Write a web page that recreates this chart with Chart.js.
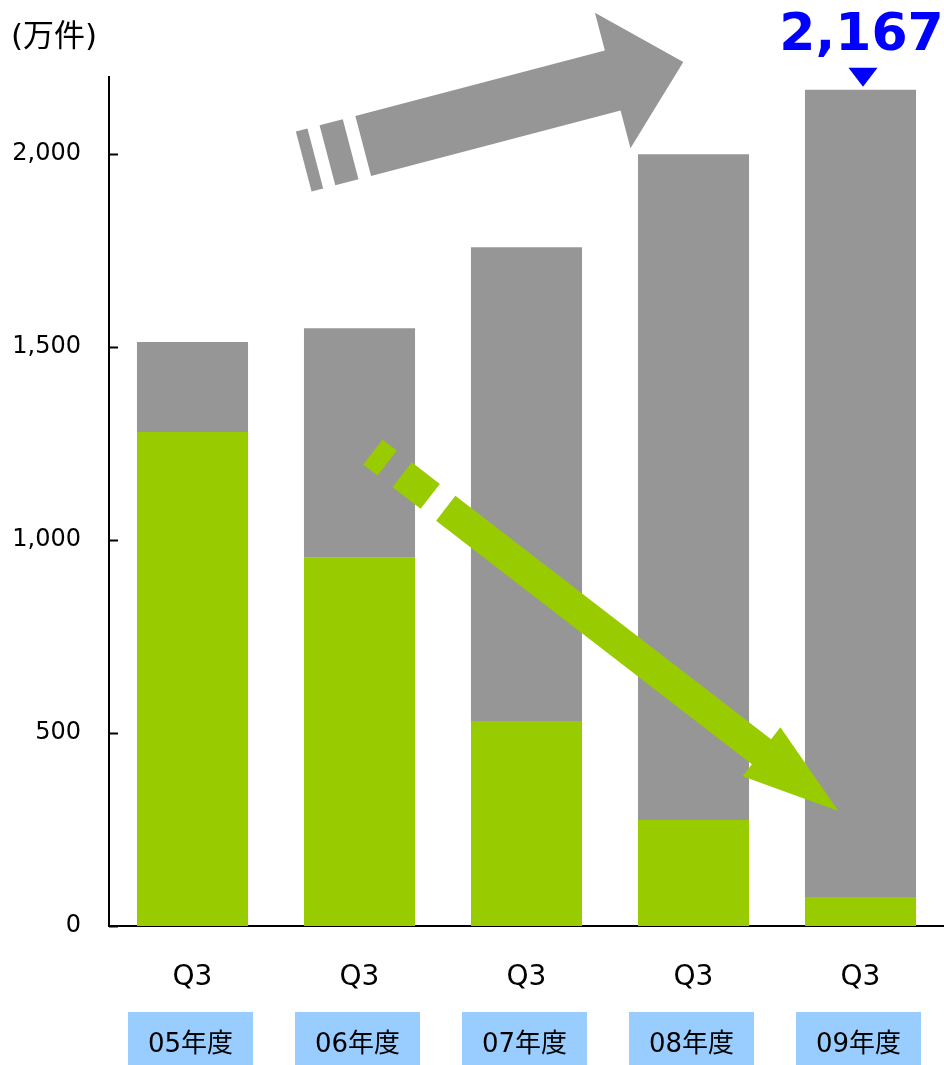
<!DOCTYPE html>
<html>
<head>
<meta charset="utf-8">
<script src="https://cdn.jsdelivr.net/npm/chart.js@4"></script>
<style>
  html, body { margin: 0; padding: 0; background: #fff; }
  canvas { display: block; }
</style>
</head>
<body>
<canvas id="tagChart" width="944" height="1065"></canvas>
<script>
// data (万件)
const quarters = ["Q3", "Q3", "Q3", "Q3", "Q3"];
const fiscalYears = ["05年度", "06年度", "07年度", "08年度", "09年度"];
const greenValues = [1280, 954, 531, 275, 75];
const grayValues = [233, 595, 1228, 1725, 2092];
const yTicks = [0, 500, 1000, 1500, 2000];
const unitLabel = "(万件)";

const FONT = '"DejaVu Sans", "Noto Sans CJK JP", sans-serif';
const GRAY = "#969696";
const GREEN = "#99cc00";

function drawArrow(ctx, x0, y0, x1, y1, shape, color) {
    const len = Math.hypot(x1 - x0, y1 - y0);
    const hw = shape.shaft / 2;
    ctx.save();
    ctx.translate(x0, y0);
    ctx.rotate(Math.atan2(y1 - y0, x1 - x0));
    ctx.fillStyle = color;
    shape.dashes.forEach(([a, b]) => ctx.fillRect(a, -hw, b - a, shape.shaft));
    ctx.beginPath();
    ctx.moveTo(shape.start, -hw);
    ctx.lineTo(len - shape.headLen, -hw);
    ctx.lineTo(len - shape.headLen, -shape.head / 2);
    ctx.lineTo(len, 0);
    ctx.lineTo(len - shape.headLen, shape.head / 2);
    ctx.lineTo(len - shape.headLen, hw);
    ctx.lineTo(shape.start, hw);
    ctx.closePath();
    ctx.fill();
    ctx.restore();
}

const extras = {
    id: "extras",
    afterDatasetsDraw(chart) {
        const ctx = chart.ctx;
        const x = chart.scales.x, y = chart.scales.y;

        // trend arrows, anchored in data space (category index, value)
        drawArrow(ctx,
            x.getPixelForValue(0.666), y.getPixelForValue(1981),
            x.getPixelForValue(2.939), y.getPixelForValue(2239),
            { shaft: 62, head: 140, headLen: 73, start: 61.5, dashes: [[0, 12], [24.5, 48.5]] },
            GRAY);
        drawArrow(ctx,
            x.getPixelForValue(1.08), y.getPixelForValue(1228),
            x.getPixelForValue(3.867), y.getPixelForValue(298),
            { shaft: 31.5, head: 62, headLen: 97, start: 92, dashes: [[0, 18], [37, 72.5]] },
            GREEN);

        // callout on the last bar
        const last = greenValues.length - 1;
        const bar = chart.getDatasetMeta(1).data[last];
        const total = greenValues[last] + grayValues[last];
        ctx.save();
        ctx.fillStyle = "#0000ff";
        ctx.beginPath();
        ctx.moveTo(bar.x - 12, bar.y - 22);
        ctx.lineTo(bar.x + 17, bar.y - 22);
        ctx.lineTo(bar.x + 2.5, bar.y - 3);
        ctx.closePath();
        ctx.fill();
        ctx.font = "bold 52px " + FONT;
        ctx.textAlign = "center";
        ctx.textBaseline = "alphabetic";
        ctx.fillText(total.toLocaleString("en-US"), bar.x + 1, bar.y - 40);
        ctx.restore();
    },
    afterDraw(chart) {
        const ctx = chart.ctx;
        const x = chart.scales.x, y = chart.scales.y;
        const area = chart.chartArea;
        ctx.save();

        // inward tick marks on the value axis
        ctx.strokeStyle = "#000";
        ctx.lineWidth = 2;
        yTicks.forEach(v => {
            const py = Math.round(y.getPixelForValue(v)) + 0.5;
            ctx.beginPath();
            ctx.moveTo(area.left, py);
            ctx.lineTo(area.left + 9, py);
            ctx.stroke();
        });

        // fiscal year boxes under the quarter labels
        ctx.font = "26px " + FONT;
        ctx.textAlign = "center";
        ctx.textBaseline = "middle";
        fiscalYears.forEach((label, i) => {
            const cx = x.getPixelForValue(i) - 2;
            ctx.fillStyle = "#99ccff";
            ctx.fillRect(cx - 62.5, area.bottom + 86, 125, 60);
            ctx.fillStyle = "#000";
            ctx.fillText(label, cx, area.bottom + 119);
        });

        // unit label
        ctx.font = "31px " + FONT;
        ctx.textAlign = "left";
        ctx.fillText(unitLabel, 11, 38);
        ctx.restore();
    }
};

const ctx = document.getElementById("tagChart").getContext("2d");
new Chart(ctx, {
    type: "bar",
    data: {
        labels: quarters,
        datasets: [
            { label: "green", data: greenValues, backgroundColor: GREEN },
            { label: "gray", data: grayValues, backgroundColor: GRAY }
        ]
    },
    options: {
        responsive: false,
        devicePixelRatio: 1,
        animation: false,
        barPercentage: 0.665,
        categoryPercentage: 1,
        layout: { padding: { top: 77, right: 0, bottom: 0, left: 0 } },
        plugins: {
            legend: { display: false },
            tooltip: { enabled: false }
        },
        scales: {
            x: {
                stacked: true,
                z: 1,
                grid: { display: false, drawTicks: false },
                border: { display: true, color: "#000", width: 2 },
                ticks: { color: "#000", font: { family: FONT, size: 28 }, padding: 35 },
                afterFit: s => { s.height = 139; }
            },
            y: {
                stacked: true,
                z: 1,
                min: 0,
                max: 2200,
                grid: { display: false, drawTicks: false },
                border: { display: true, color: "#000", width: 2 },
                afterBuildTicks: s => { s.ticks = yTicks.map(v => ({ value: v })); },
                ticks: {
                    color: "#000",
                    font: { family: FONT, size: 24 },
                    padding: 28,
                    callback: v => v.toLocaleString("en-US")
                },
                afterFit: s => { s.width = 109; }
            }
        }
    },
    plugins: [extras]
});
</script>
</body>
</html>
